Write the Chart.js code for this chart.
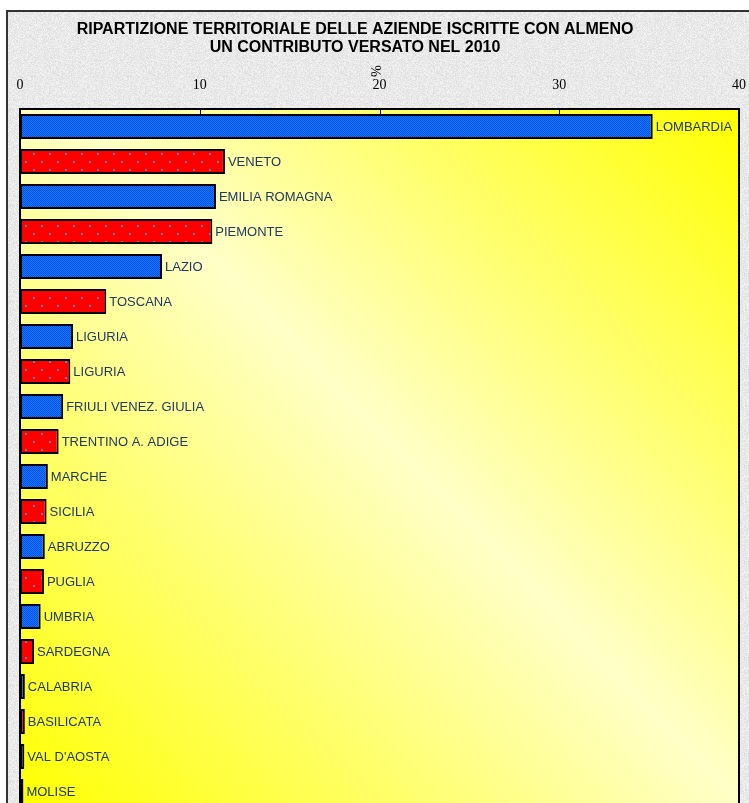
<!DOCTYPE html>
<html>
<head>
<meta charset="utf-8">
<script src="https://cdn.jsdelivr.net/npm/chart.js@4.4.1/dist/chart.umd.min.js"></script>
<style>
  html, body { margin: 0; padding: 0; background: #fff; overflow: hidden; }
  #box { width: 749px; height: 830px; }
</style>
</head>
<body>
<div id="box"><canvas id="grafico" width="749" height="830"></canvas></div>
<script>
// Ripartizione territoriale delle aziende (valori in %)
const regioni = ['LOMBARDIA', 'VENETO', 'EMILIA ROMAGNA', 'PIEMONTE', 'LAZIO', 'TOSCANA', 'LIGURIA', 'LIGURIA',
  'FRIULI VENEZ. GIULIA', 'TRENTINO A. ADIGE', 'MARCHE', 'SICILIA', 'ABRUZZO', 'PUGLIA', 'UMBRIA', 'SARDEGNA',
  'CALABRIA', 'BASILICATA', "VAL D'AOSTA", 'MOLISE'];
const percentuali = [35.2, 11.4, 10.9, 10.7, 7.9, 4.8, 2.95, 2.8, 2.4, 2.15, 1.55, 1.48, 1.38, 1.33, 1.15, 0.78,
  0.27, 0.27, 0.24, 0.19];
const tickAsse = [0, 10, 20, 30, 40];
const titolo = ['RIPARTIZIONE TERRITORIALE DELLE AZIENDE ISCRITTE CON ALMENO', 'UN CONTRIBUTO VERSATO NEL 2010'];

// trame per le barre
function trama(w, h, disegna) {
  const c = document.createElement('canvas');
  c.width = w; c.height = h;
  const g = c.getContext('2d');
  disegna(g);
  return g.createPattern(c, 'repeat');
}
const ctx = document.getElementById('grafico').getContext('2d');

const tramaBlu = trama(2, 2, g => {
  g.fillStyle = '#1a75ff'; g.fillRect(0, 0, 2, 2);
  g.fillStyle = '#0050e0'; g.fillRect(0, 0, 1, 1); g.fillRect(1, 1, 1, 1);
});
const tramaRossa = trama(16, 16, g => {
  g.fillStyle = '#ff0000'; g.fillRect(0, 0, 16, 16);
  g.fillStyle = '#4f8ab8';
  g.fillRect(9, 1, 2, 2); g.fillRect(1, 9, 2, 2);
});
// fondo grigio "granito"
const tramaFondo = trama(96, 96, g => {
  const img = g.createImageData(96, 96);
  for (let y = 0; y < 96; y++) {
    for (let x = 0; x < 96; x++) {
      const n = Math.sin(x * 12.9898 + y * 78.233) * 43758.5453;
      const f = n - Math.floor(n);
      const v = Math.round(222 + f * 22);
      const i = (y * 96 + x) * 4;
      img.data[i] = v; img.data[i + 1] = v; img.data[i + 2] = v; img.data[i + 3] = 255;
    }
  }
  g.putImageData(img, 0, 0);
});

const sfondo = {
  id: 'sfondo',
  beforeDraw(chart) {
    const c = chart.ctx, a = chart.chartArea;
    c.save();
    c.fillStyle = '#fff';
    c.fillRect(0, 0, chart.width, chart.height);
    c.fillStyle = tramaFondo;
    c.fillRect(7, 11, chart.width, chart.height);
    c.strokeStyle = '#333';
    c.lineWidth = 2;
    c.strokeRect(7, 11, chart.width + 10, chart.height + 10);
    // area del grafico con sfumatura gialla
    const gr = c.createLinearGradient(a.left, a.bottom, a.right, a.top);
    gr.addColorStop(0, '#ffff00');
    gr.addColorStop(0.52, '#ffffc8');
    gr.addColorStop(1, '#ffff00');
    c.fillStyle = gr;
    c.fillRect(a.left, a.top, a.right - a.left, a.bottom - a.top);
    c.restore();
  },
  beforeDatasetsDraw(chart) {
    const c = chart.ctx, a = chart.chartArea, sx = chart.scales.x;
    c.save();
    c.strokeStyle = '#000';
    c.lineWidth = 2;
    c.strokeRect(a.left, a.top, a.right - a.left, a.bottom - a.top);
    // tacche interne sull'asse superiore
    c.lineWidth = 1;
    tickAsse.slice(1, -1).forEach(v => {
      const x = Math.round(sx.getPixelForValue(v)) + 0.5;
      c.beginPath();
      c.moveTo(x, a.top);
      c.lineTo(x, a.top + 5);
      c.stroke();
    });
    c.restore();
  },
  afterDatasetsDraw(chart) {
    const c = chart.ctx;
    c.save();
    c.font = '13px "Liberation Sans", Arial, sans-serif';
    c.fillStyle = '#1f3864';
    c.textBaseline = 'middle';
    chart.getDatasetMeta(0).data.forEach((bar, i) => {
      c.fillText(regioni[i], bar.x + 3, bar.y + 1);
    });
    // titolo
    c.font = 'bold 16px "Liberation Sans", Arial, sans-serif';
    c.fillStyle = '#000';
    c.textAlign = 'center';
    c.fillText(titolo[0], 355, 30);
    c.fillText(titolo[1], 355, 48);
    // unità di misura, ruotata
    c.font = '14px "Liberation Serif", "Times New Roman", serif';
    c.translate(375, 71);
    c.rotate(Math.PI / 2);
    c.fillText('%', 0, 0);
    c.restore();
  }
};

new Chart(ctx, {
  type: 'bar',
  data: {
    labels: regioni,
    datasets: [{
      data: percentuali,
      backgroundColor: percentuali.map((v, i) => i % 2 === 0 ? tramaBlu : tramaRossa),
      borderColor: '#000',
      borderWidth: 2,
      borderSkipped: false,
      categoryPercentage: 1,
      barPercentage: 0.72
    }]
  },
  options: {
    indexAxis: 'y',
    responsive: false,
    animation: false,
    layout: { padding: { left: 20, right: 10, top: 0, bottom: 21 } },
    scales: {
      x: {
        position: 'top',
        min: 0,
        max: 40,
        afterFit: s => { s.height = 109; s.paddingLeft = 0; s.paddingRight = 0; },
        afterBuildTicks: s => { s.ticks = tickAsse.map(v => ({ value: v })); },
        grid: { display: false, drawTicks: false },
        border: { display: false },
        ticks: {
          padding: 15,
          color: '#000',
          font: { family: '"Liberation Serif", "Times New Roman", serif', size: 14 }
        }
      },
      y: { display: false }
    },
    plugins: {
      legend: { display: false },
      tooltip: { enabled: false }
    }
  },
  plugins: [sfondo]
});
</script>
</body>
</html>
